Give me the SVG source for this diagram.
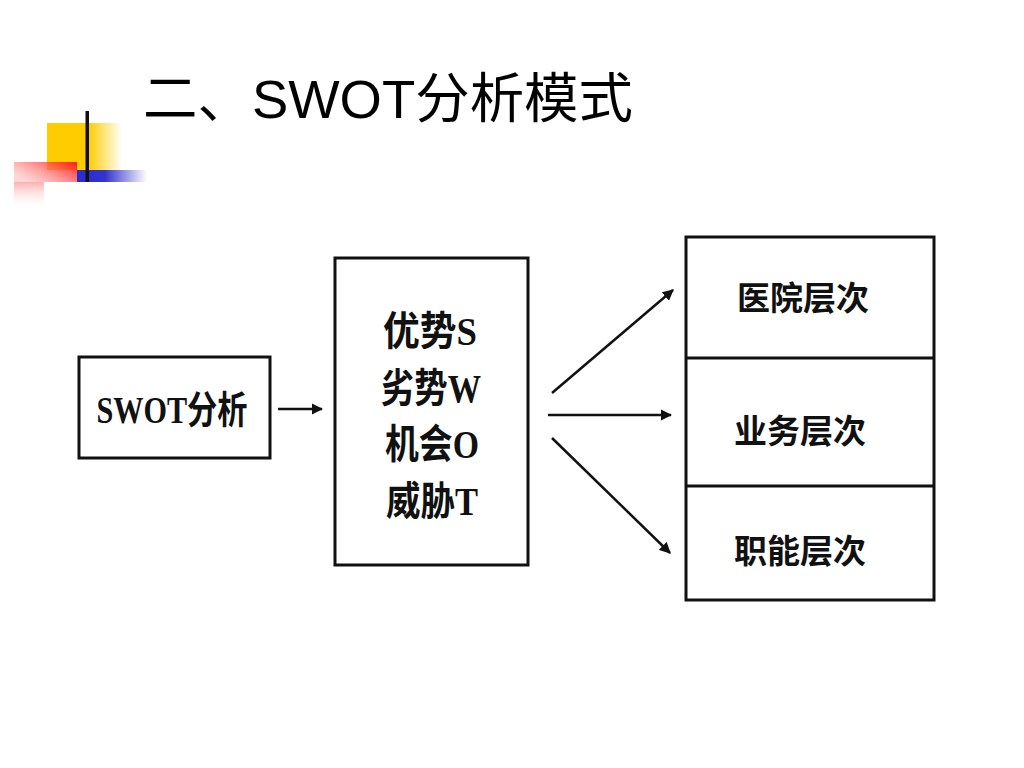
<svg xmlns="http://www.w3.org/2000/svg" width="1024" height="768" viewBox="0 0 1024 768">
<defs>
<linearGradient id="gY" x1="0" y1="0" x2="1" y2="0"><stop offset="0" stop-color="#ffcc00"/><stop offset="0.55" stop-color="#ffcc00"/><stop offset="1" stop-color="#ffcc00" stop-opacity="0"/></linearGradient>
<linearGradient id="gB" x1="0" y1="0" x2="1" y2="0"><stop offset="0" stop-color="#2a2ad0"/><stop offset="0.4" stop-color="#3333cc"/><stop offset="1" stop-color="#3333cc" stop-opacity="0"/></linearGradient>
<linearGradient id="gR" x1="1" y1="0" x2="0" y2="0.6"><stop offset="0" stop-color="#ff1a1a"/><stop offset="1" stop-color="#ff9999" stop-opacity="0.4"/></linearGradient>
<linearGradient id="gR2" x1="0" y1="0" x2="0" y2="1"><stop offset="0" stop-color="#ff9a9a" stop-opacity="0.8"/><stop offset="1" stop-color="#ffffff" stop-opacity="0"/></linearGradient>
<marker id="ah" viewBox="0 0 10 10" refX="9" refY="5" markerWidth="4.5" markerHeight="4.5" orient="auto" markerUnits="strokeWidth"><path d="M0,0 L10,5 L0,10 Z" fill="#111"/></marker>
<style>
.box{fill:#fff;stroke:#111;stroke-width:3}
.conn{stroke:#111;stroke-width:2.5;fill:none;marker-end:url(#ah)}
.serif{font-family:"Liberation Serif","Noto Sans CJK SC",serif;font-weight:bold;fill:#111}
.hei{font-family:"Noto Sans CJK SC",sans-serif;font-weight:bold;fill:#111}
</style>
</defs>
<g id="logo">
<rect x="47" y="123" width="75" height="47" fill="url(#gY)"/>
<rect x="77" y="170" width="70" height="12" fill="url(#gB)"/>
<rect x="14" y="162" width="63" height="20" fill="url(#gR)"/>
<rect x="14" y="182" width="30" height="27" fill="url(#gR2)"/>
<rect x="85.5" y="111" width="3.5" height="71" fill="#111"/>
</g>
<text id="title" x="143" y="118" font-family="Liberation Sans,'Noto Sans CJK SC',sans-serif" font-size="54" fill="#000" textLength="490" lengthAdjust="spacingAndGlyphs">二、SWOT分析模式</text>
<g id="connectors">
<line class="conn" x1="278" y1="409" x2="322" y2="409"/>
<line class="conn" x1="552" y1="393" x2="673" y2="290"/>
<line class="conn" x1="548" y1="415" x2="671" y2="415"/>
<line class="conn" x1="552" y1="438" x2="670" y2="553"/>
</g>
<g id="swot">
<rect class="box" x="79" y="357" width="191" height="101"/>
<text class="serif" x="172" y="423" font-size="38" text-anchor="middle" textLength="151" lengthAdjust="spacingAndGlyphs">SWOT分析</text>
</g>
<g id="factors">
<rect class="box" x="335" y="258" width="193" height="307"/>
<text class="serif" x="383" y="345" font-size="40" textLength="94" lengthAdjust="spacingAndGlyphs">优势S</text>
<text class="serif" x="381" y="402" font-size="40" textLength="100" lengthAdjust="spacingAndGlyphs">劣势W</text>
<text class="serif" x="385" y="458" font-size="40" textLength="94" lengthAdjust="spacingAndGlyphs">机会O</text>
<text class="serif" x="386" y="515" font-size="40" textLength="92" lengthAdjust="spacingAndGlyphs">威胁T</text>
</g>
<g id="levels">
<rect class="box" x="686" y="237" width="248" height="363"/>
<line x1="686" y1="358" x2="934" y2="358" stroke="#111" stroke-width="3"/>
<line x1="686" y1="486" x2="934" y2="486" stroke="#111" stroke-width="3"/>
</g>
<g id="hospital"><text class="hei" x="803" y="310" font-size="33" text-anchor="middle">医院层次</text></g>
<g id="business"><text class="hei" x="800" y="443" font-size="33" text-anchor="middle">业务层次</text></g>
<g id="function"><text class="hei" x="800" y="563" font-size="33" text-anchor="middle">职能层次</text></g>
</svg>
